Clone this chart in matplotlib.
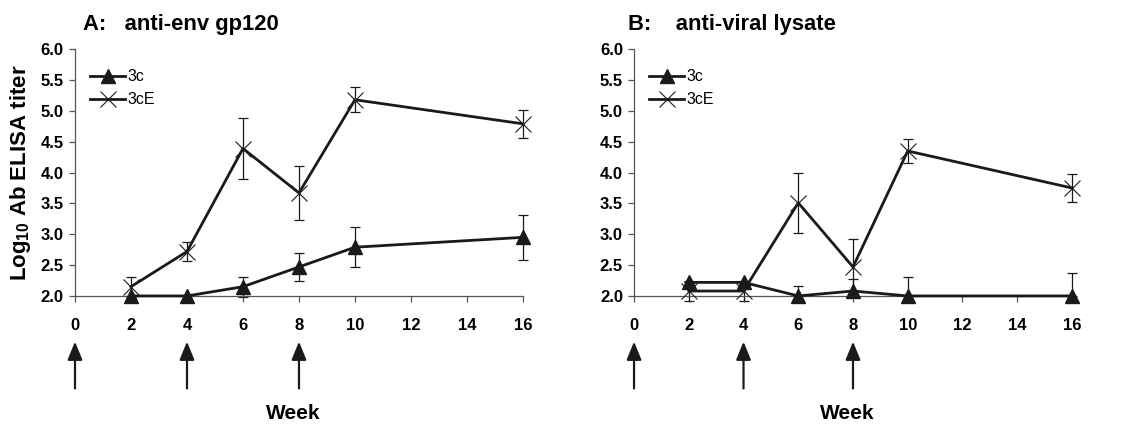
import numpy as np
import matplotlib
matplotlib.use("Agg")
import matplotlib.pyplot as plt
import matplotlib.transforms as mtransforms

plt.rcParams['font.family'] = ['Liberation Sans', 'DejaVu Sans']
plt.rcParams['mathtext.default'] = 'regular'

# weeks sampled
weeks = [2, 4, 6, 8, 10, 16]
tick_weeks = [0, 2, 4, 6, 8, 10, 12, 14, 16]
immunization_weeks = [0, 4, 8]

# A: anti-env gp120
a_3c = [2.0, 2.0, 2.15, 2.47, 2.79, 2.95]
a_3c_err_lo = [0, 0, 0.16, 0.22, 0.32, 0.37]
a_3c_err_hi = [0, 0, 0.16, 0.22, 0.32, 0.37]
a_3ce = [2.15, 2.72, 4.39, 3.67, 5.18, 4.79]
a_3ce_err = [0.16, 0.16, 0.49, 0.44, 0.20, 0.23]

# B: anti-viral lysate
b_3c = [2.22, 2.22, 2.0, 2.08, 2.0, 2.0]
b_3c_err_lo = [0, 0, 0, 0.08, 0, 0]
b_3c_err_hi = [0, 0, 0.16, 0.19, 0.31, 0.37]
b_3ce = [2.08, 2.08, 3.51, 2.47, 4.35, 3.75]
b_3ce_err = [0.16, 0.16, 0.49, 0.45, 0.20, 0.22]

titles = ["A:   anti-env gp120", "B:    anti-viral lysate"]

fig = plt.figure(figsize=(11.31, 4.24), dpi=100)
ax_a = fig.add_axes([0.0663, 0.302, 0.3961, 0.582])
ax_b = fig.add_axes([0.5606, 0.302, 0.3872, 0.582])

line_col = '#1a1a1a'


def draw_panel(ax, y3c, e3c, y3ce, e3ce, title, title_x):
    ax.errorbar(weeks, y3c, yerr=e3c, fmt='none', ecolor=line_col,
                elinewidth=0.9, capsize=3.5, capthick=0.9, clip_on=False, zorder=2)
    ax.errorbar(weeks, y3ce, yerr=e3ce, fmt='none', ecolor=line_col,
                elinewidth=0.9, capsize=3.5, capthick=0.9, clip_on=False, zorder=2)
    ax.plot(weeks, y3c, '-', color=line_col, lw=2.0, marker='^', ms=10,
            mfc=line_col, mec=line_col, label='3c', clip_on=False, zorder=3)
    ax.plot(weeks, y3ce, '-', color=line_col, lw=2.0, marker='x', ms=11,
            mew=0.8, mec=line_col, label='3cE', clip_on=False, zorder=3)

    ax.set_xlim(0, 16)
    ax.set_ylim(2.0, 6.0)
    ax.set_xticks(tick_weeks)
    ax.set_yticks(np.arange(2.0, 6.01, 0.5))
    ax.set_yticklabels([f"{v:.1f}" for v in np.arange(2.0, 6.01, 0.5)])
    for s in ['top', 'right']:
        ax.spines[s].set_visible(False)
    for s in ['left', 'bottom']:
        ax.spines[s].set_color('#555555')
        ax.spines[s].set_linewidth(0.9)
    ax.tick_params(axis='both', direction='out', length=4, width=0.9,
                   color='#555555', labelsize=12)
    ax.tick_params(axis='x', pad=12)
    ax.tick_params(axis='y', pad=4)
    for lab in ax.get_xticklabels() + ax.get_yticklabels():
        lab.set_fontweight('bold')

    ax.legend(loc='upper left', bbox_to_anchor=(0.02, 0.945), frameon=False,
              fontsize=11.5, handlelength=2.2, handletextpad=0.15,
              labelspacing=0.5, borderaxespad=0)

    ax.text(title_x, 1.10, title, transform=ax.transAxes, fontsize=15.8,
            fontweight='bold', ha='left', va='center')

    # immunization arrows below the axis
    trans = mtransforms.blended_transform_factory(ax.transData, ax.transAxes)
    for w in immunization_weeks:
        ax.annotate('', xy=(w, -0.185), xytext=(w, -0.375), xycoords=trans,
                    textcoords=trans, annotation_clip=False,
                    arrowprops=dict(arrowstyle='-|>,head_length=1.1,head_width=0.45',
                                    color=line_col, lw=1.6, shrinkA=0, shrinkB=0))
    ax.text(7.8, -0.475, 'Week', transform=trans, fontsize=15, fontweight='bold',
            ha='center', va='center')


draw_panel(ax_a, a_3c, [a_3c_err_lo, a_3c_err_hi], a_3ce, a_3ce_err, titles[0], 0.018)
draw_panel(ax_b, b_3c, [b_3c_err_lo, b_3c_err_hi], b_3ce, b_3ce_err, titles[1], -0.014)

ax_a.set_ylabel('Log$_{10}$ Ab ELISA titer', fontsize=16, fontweight='bold')
ax_a.yaxis.set_label_coords(-0.094, 0.5)

fig.savefig('out.png', dpi=100)
